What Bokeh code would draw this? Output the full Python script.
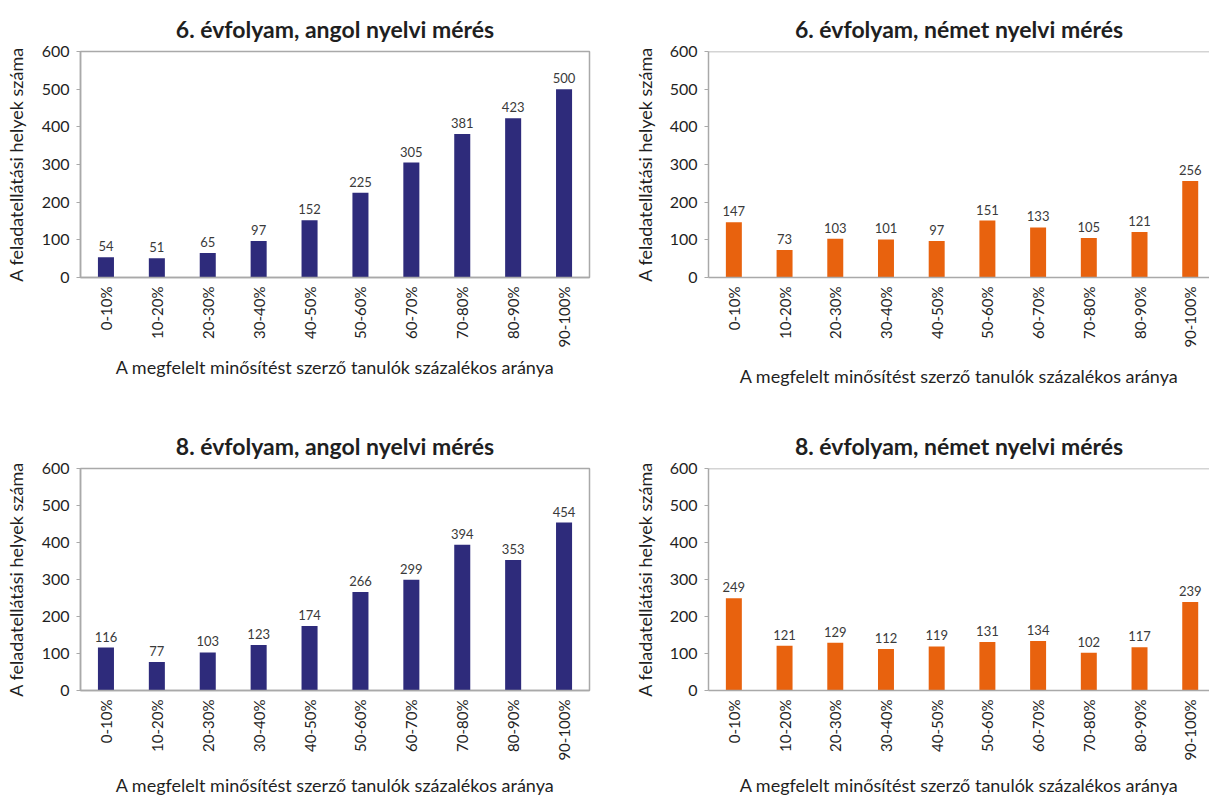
import numpy as np
from bokeh.plotting import figure
from bokeh.layouts import column, row
from bokeh.models import ColumnDataSource, FixedTicker, Range1d, Span
from bokeh.embed import file_html
from bokeh.resources import INLINE
from bokeh.core.properties import value

# ---------------- data ----------------
categories = ["0-10%", "10-20%", "20-30%", "30-40%", "40-50%",
              "50-60%", "60-70%", "70-80%", "80-90%", "90-100%"]
grade6_english = [54, 51, 65, 97, 152, 225, 305, 381, 423, 500]
grade6_german = [147, 73, 103, 101, 97, 151, 133, 105, 121, 256]
grade8_english = [116, 77, 103, 123, 174, 266, 299, 394, 353, 454]
grade8_german = [249, 121, 129, 112, 119, 131, 134, 102, 117, 239]
y_ticks = [0, 100, 200, 300, 400, 500, 600]

titles = ["6. évfolyam, angol nyelvi mérés", "6. évfolyam, német nyelvi mérés",
          "8. évfolyam, angol nyelvi mérés", "8. évfolyam, német nyelvi mérés"]
x_title = "A megfelelt minősítést szerző tanulók százalékos aránya"
y_title = "A feladatellátási helyek száma"

NAVY = "#2e2b7b"
ORANGE = "#e8620e"
FONT = "Lato"
TEXT = "#1f1f1f"
AXIS = "#a9a9a9"


def make_panel(title, values, color, width, height, bl, br, bt, bb,
               x_end, full_box, ylab_standoff, xlab_standoff, title_standoff):
    x = list(range(len(categories)))
    src = ColumnDataSource(dict(x=x, v=values, lab=[str(v) for v in values]))
    p = figure(width=width, height=height, output_backend="svg",
               toolbar_location=None, tools="",
               x_range=Range1d(-0.5, x_end), y_range=Range1d(0, 600))
    p.min_border_left = bl
    p.min_border_right = br
    p.min_border_top = bt
    p.min_border_bottom = bb
    p.background_fill_color = "white"
    p.border_fill_color = "white"
    p.grid.visible = False

    p.title.text = title
    p.title.align = "center"
    p.title.text_font = FONT
    p.title.text_font_size = "23px"
    p.title.text_font_style = "bold"
    p.title.text_color = TEXT
    p.title.standoff = title_standoff

    if full_box:
        p.outline_line_color = AXIS
        p.outline_line_width = 1.5
    else:
        p.outline_line_color = None
        p.add_layout(Span(location=600, dimension="width",
                          line_color=AXIS, line_width=1.5))

    p.vbar(x="x", top="v", width=0.315, bottom=0, source=src,
           fill_color=color, line_color=None)
    p.text(x="x", y="v", text="lab", source=src, text_align="center",
           text_baseline="bottom", y_offset=-6,
           text_font=value(FONT), text_font_size="13px", text_color="#3a3a3a")

    xa = p.xaxis[0]
    xa.ticker = FixedTicker(ticks=x)
    xa.major_label_overrides = {i: c for i, c in zip(x, categories)}
    xa.major_label_orientation = np.pi / 2
    xa.major_tick_out = 0
    xa.major_tick_in = 0
    xa.minor_tick_out = 0
    xa.minor_tick_in = 0
    xa.axis_line_color = AXIS
    xa.axis_line_width = 1.5
    xa.major_label_text_font = FONT
    xa.major_label_text_font_size = "15px"
    xa.major_label_text_color = TEXT
    xa.major_label_standoff = 9
    xa.axis_label = x_title
    xa.axis_label_text_font = FONT
    xa.axis_label_text_font_size = "18px"
    xa.axis_label_text_font_style = "normal"
    xa.axis_label_text_color = TEXT
    xa.axis_label_standoff = xlab_standoff

    ya = p.yaxis[0]
    ya.ticker = FixedTicker(ticks=y_ticks)
    ya.major_tick_out = 4
    ya.major_tick_in = 0
    ya.minor_tick_out = 0
    ya.minor_tick_in = 0
    ya.major_tick_line_color = AXIS
    ya.axis_line_color = AXIS
    ya.axis_line_width = 1.5
    ya.major_label_text_font = FONT
    ya.major_label_text_font_size = "16px"
    ya.major_label_text_color = TEXT
    ya.major_label_standoff = 7
    ya.axis_label = y_title
    ya.axis_label_text_font = FONT
    ya.axis_label_text_font_size = "18px"
    ya.axis_label_text_font_style = "normal"
    ya.axis_label_text_color = TEXT
    ya.axis_label_standoff = ylab_standoff
    return p


p1 = make_panel(titles[0], grade6_english, NAVY, 604, 400, 80, 15, 49, 123,
                9.5, True, 12, 5, 17)
p2 = make_panel(titles[1], grade6_german, ORANGE, 605, 400, 104, 0, 51, 123,
                9.38, False, 11, 14, 17)
p3 = make_panel(titles[2], grade8_english, NAVY, 604, 398, 80, 15, 66, 105,
                9.5, True, 12, 10, 18)
p4 = make_panel(titles[3], grade8_german, ORANGE, 605, 398, 104, 0, 68, 104,
                9.38, False, 11, 10, 18)

layout = column(row(p1, p2), row(p3, p4))

with open("out.html", "w") as f:
    f.write(file_html(layout, INLINE))
